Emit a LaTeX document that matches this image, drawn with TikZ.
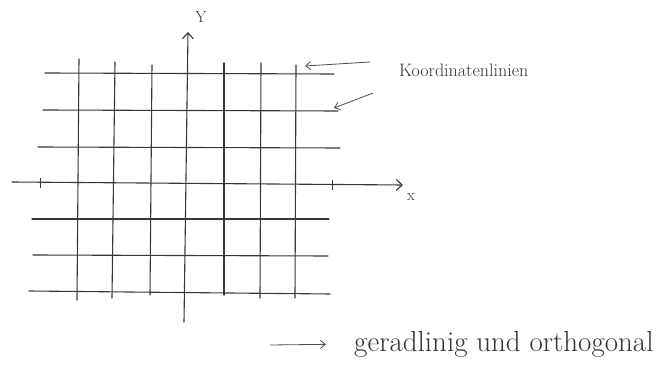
\documentclass[tikz,border=0pt]{standalone}
\usepackage{tikz}
\usetikzlibrary{arrows.meta}
\tikzset{
  kgrid/.style={line width=1.1pt, draw=black!78, line cap=round},
  kaxis/.style={line width=1.1pt, draw=black!78, line cap=round, -{Straight Barb[length=6pt,width=11pt]}},
  ktick/.style={line width=1pt, draw=black!78},
  kpoint/.style={line width=0.8pt, draw=black!70, -{Straight Barb[length=5pt,width=8pt]}},
  klabel/.style={inner sep=0pt, text=black!80},
}
\begin{document}
\begin{tikzpicture}[x=1pt,y=-1pt]
\useasboundingbox (0,0) rectangle (664,374);
% horizontale Linien
\draw[kgrid] (45,73) -- (334,74);
\draw[kgrid] (43,110) -- (338,111);
\draw[kgrid] (38,147) -- (340,148);
\draw[kgrid] (32,219) -- (329,219);
\draw[kgrid] (33,255) -- (328,256);
\draw[kgrid] (29,291) -- (330,294);
% vertikale Linien
\draw[kgrid] (79,59) -- (77,300);
\draw[kgrid] (115,62) -- (112,298);
\draw[kgrid] (152,65) -- (150,295);
\draw[kgrid] (224,63) -- (224,295);
\draw[kgrid] (261,63) -- (260,298);
\draw[kgrid] (296,65) -- (295,298);
% Achsen
\draw[kaxis] (12,182) -- (403,185);
\draw[kaxis] (184,322) -- (188,32);
\draw[ktick] (40,178) -- (40,188);
\draw[ktick] (332,180) -- (332,190);
\node[klabel, font=\fontsize{16}{16}\selectfont] (ylab) at (201,17) {Y};
\node[klabel, font=\fontsize{16}{16}\selectfont] (xlab) at (411,197) {x};
% Beschriftung
\node[klabel, font=\fontsize{18}{18}\selectfont, anchor=west] (klinien) at (399,70) {Koordinatenlinien};
\coordinate (ka) at (370,62);
\coordinate (kb) at (305,66);
\coordinate (kc) at (373,93);
\coordinate (kd) at (334,108);
\draw[kpoint] (ka) -- (kb);
\draw[kpoint] (kc) -- (kd);
\node[klabel, font=\fontsize{29}{29}\selectfont, anchor=west] (gerad) at (354,344) {geradlinig und orthogonal};
\coordinate (ga) at (270,345);
\draw[kpoint, shorten >=28pt] (ga) -- (gerad.west);
\end{tikzpicture}
\end{document}
